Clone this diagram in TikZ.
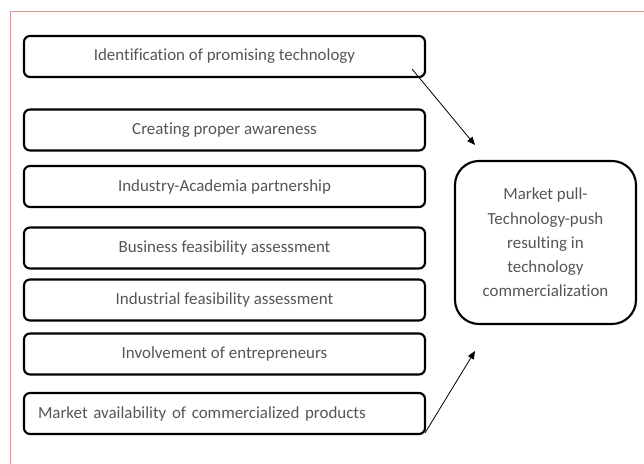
\documentclass[tikz,border=0pt]{standalone}
\usepackage{fontspec}
\setmainfont{Carlito}[Ligatures=NoCommon]
\usetikzlibrary{arrows.meta}
\definecolor{frameRed}{RGB}{214,150,150}
\definecolor{textGray}{RGB}{85,85,85}
\begin{document}
\begin{tikzpicture}
[x=0.75pt,y=-0.75pt,
  boxDecorate/.style={shape=rectangle,draw,line width=1.6pt,rounded corners=4.5pt,
    minimum width=300.75pt,minimum height=30.75pt,text=textGray,font=\fontsize{12.7}{15}\selectfont},
  hubDecorate/.style={shape=rectangle,draw,line width=1.6pt,rounded corners=18pt,
    minimum width=135.75pt,minimum height=122.25pt,text=textGray,align=center,
    font=\fontsize{12.7}{18.2}\selectfont},
  arrowDecorate/.style={-{Triangle[length=6pt,width=5pt]},line width=0.6pt}]
%% frame
\useasboundingbox (0,0) rectangle (644,464);
\draw[frameRed,line width=0.7pt] (10,464) -- (10,11) -- (644,11);
%% factor boxes
\foreach \nodename/\y/\txt in {
  identify/56.5/Identification of promising technology,
  awareness/130/Creating proper awareness,
  partnership/186.5/Industry-Academia partnership,
  business/248/Business feasibility assessment,
  industrial/300/Industrial feasibility assessment,
  entrepreneurs/354/Involvement of entrepreneurs}
{
  \node (\nodename) at (224.5,\y) [boxDecorate] {\txt};
}
\node (market) at (224.5,413.5) [boxDecorate,inner xsep=10.5pt,text width=279.75pt,align=left]
  {Market availability of commercialized products};
%% result
\node (hub) at (545.5,242.5) [hubDecorate]
  {Market pull-\\Technology-push\\resulting in\\technology\\commercialization};
%% arrows
\coordinate (topStart) at (412,69);
\coordinate (topEnd) at (475,145);
\coordinate (bottomStart) at (425,433);
\coordinate (bottomEnd) at (475,351);
\draw[arrowDecorate] (topStart) -- (topEnd);
\draw[arrowDecorate] (bottomStart) -- (bottomEnd);
\end{tikzpicture}
\end{document}
